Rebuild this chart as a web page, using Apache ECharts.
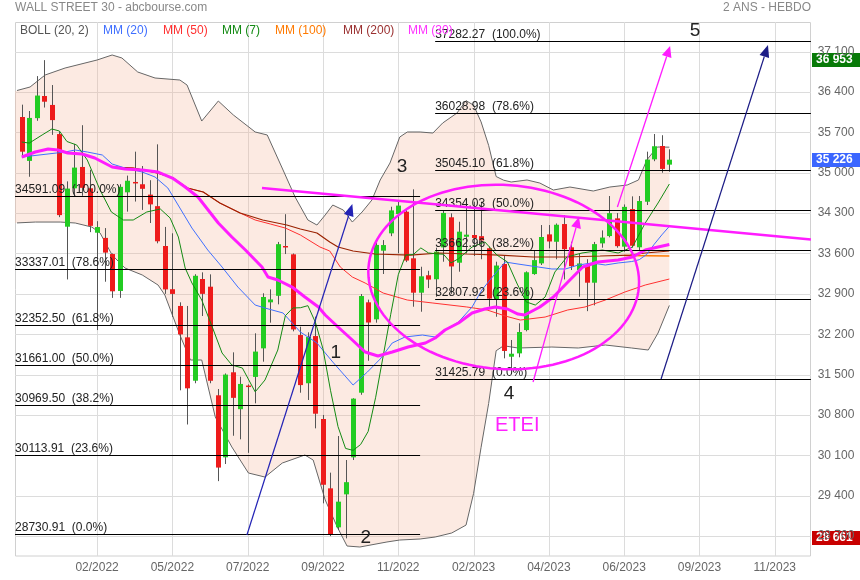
<!DOCTYPE html>
<html><head><meta charset="utf-8">
<script src="https://cdn.jsdelivr.net/npm/echarts@6/dist/echarts.min.js"></script>
<style>html,body{margin:0;padding:0;background:#fff}#c{width:860px;height:580px}</style>
</head><body><div id="c"></div>
<script>
// ---------- categories (weekly) ----------
const weeks = ['2021-12-13','2021-12-20','2021-12-27',
'2022-01-03','2022-01-10','2022-01-17','2022-01-24','2022-01-31','2022-02-07','2022-02-14','2022-02-21','2022-02-28','2022-03-07','2022-03-14','2022-03-21','2022-03-28','2022-04-04','2022-04-11','2022-04-18','2022-04-25','2022-05-02','2022-05-09','2022-05-16','2022-05-23','2022-05-30','2022-06-06','2022-06-13','2022-06-20','2022-06-27','2022-07-04','2022-07-11','2022-07-18','2022-07-25','2022-08-01','2022-08-08','2022-08-15','2022-08-22','2022-08-29','2022-09-05','2022-09-12','2022-09-19','2022-09-26','2022-10-03','2022-10-10','2022-10-17','2022-10-24','2022-10-31','2022-11-07','2022-11-14','2022-11-21','2022-11-28','2022-12-05','2022-12-12','2022-12-19','2022-12-26',
'2023-01-02','2023-01-09','2023-01-16','2023-01-23','2023-01-30','2023-02-06','2023-02-13','2023-02-20','2023-02-27','2023-03-06','2023-03-13','2023-03-20','2023-03-27','2023-04-03','2023-04-10','2023-04-17','2023-04-24','2023-05-01','2023-05-08','2023-05-15','2023-05-22','2023-05-29','2023-06-05','2023-06-12','2023-06-19','2023-06-26','2023-07-03','2023-07-10','2023-07-17','2023-07-24','2023-07-31','2023-08-07','2023-08-14','2023-08-21','2023-08-28','2023-09-04','2023-09-11','2023-09-18','2023-09-25','2023-10-02','2023-10-09','2023-10-16','2023-10-23','2023-10-30','2023-11-06','2023-11-13','2023-11-20','2023-11-27','2023-12-04','2023-12-11'];

// ---------- OHLC ----------
const opens = [35966,35205,35946,36330,36175,35670,34064,34730,35100,34730,33960,33870,33590,32950,34660,34840,34800,34620,34420,33730,32980,32690,32146,31394,33157,33024,31141,30066,31540,30900,31310,31460,31955,32753,32866,33730,33585,32186,31350,32168,30730,29528,28852,29424,30066,31186,32753,32458,33648,33949,34283,34324,33516,32920,33222,33153,33706,34227,33440,33890,33920,33900,33690,32807,33417,31810,31868,32272,33243,33428,33931,33803,34110,33707,33313,33400,33093,33775,33902,34209,33718,34370,33707,34497,35232,35463,35140];
const closes = [35365,35950,36338,36231,35912,34265,34725,35089,34738,34079,34058,33615,32944,34755,34861,34818,34721,34451,33811,32977,32899,32197,31262,33213,32900,31393,29888,31500,31097,31338,31288,31899,32845,32803,33761,33706,32283,31318,32151,30822,29590,28726,29297,29635,31083,32862,32403,33748,33746,34347,34430,33477,32920,33204,33147,33631,34303,33375,33978,33926,33869,33827,32817,33391,31910,31862,32238,33274,33485,33886,33808,34098,33674,33380,33427,33093,33762,33876,34299,33727,34408,33734,34509,35228,35459,35066,35226];
const lows = [35280,34930,35900,36130,35656,34230,33150,34600,34600,33970,32272,33110,32830,32830,34325,34500,34355,34128,33776,32900,32500,31228,30635,31350,32516,31350,29653,29950,30440,30378,30143,31002,31724,32400,32718,33590,32250,31186,31060,30568,29268,28700,28805,28661,30019,31150,31740,32400,33244,33900,33603,33450,32677,32590,33000,32850,33457,32900,33284,33603,33556,33500,32677,32503,31782,31609,31800,32250,33230,33400,33689,33500,33150,33313,32850,32600,32700,33700,33880,33700,33630,33700,33650,34440,35200,35000,35017];
const highs = [36180,36070,36675,36952,36520,35720,34850,35500,35824,35050,34160,34040,33600,34800,34950,35365,35116,34870,35492,34060,33950,32753,32690,33240,33273,33238,31250,31520,31886,31463,31330,32216,32910,32978,33800,34281,33600,32330,32233,32504,30800,29800,30435,30019,31090,32897,32800,33821,33832,34410,34497,34370,34712,33370,33300,33700,34340,34296,34150,34538,34497,34497,33720,33457,33570,32100,32390,33290,33660,34093,34093,34120,34266,33803,33600,33500,33800,34000,34596,34300,34450,34590,34596,35365,35671,35650,35406];

// ---------- indicators: [week index, value] ----------
const bollUpper = [[-0.9,36416],[1.1,36486],[3.1,36694],[5.75,36815],[10,36954],[12,37041],[13.3,36989],[15.4,36746],[17.7,36642],[21,36607],[21.95,36520],[23.9,35896],[26.1,36243],[28.1,36001],[31,35706],[32.6,35654],[34.7,35047],[36.3,34579],[38,34180],[39.2,34093],[40.3,34267],[41.3,34440],[42.7,34353],[43.9,34145],[45.2,34319],[46.5,34527],[47.6,34874],[48.9,35168],[50.2,35619],[51.2,35706],[52.9,35706],[54.6,35688],[55.9,35862],[57.8,36035],[59,36250],[60,36171],[61,35880],[62,35474],[63,34934],[64,34870],[65,34839],[67.1,34874],[68.8,34821],[70.6,34700],[72.8,34752],[75.9,34683],[78.1,34752],[80.4,34787],[81.9,34874],[83,35220],[84.4,35446],[86,35443]];
const bollLower = [[-0.9,34128],[1.8,34145],[5.1,34145],[7.1,34128],[9.3,34058],[10.4,33955],[12,33573],[13.7,33348],[16,33227],[18.1,33053],[19,32880],[21,32186],[22.4,31753],[23.9,31753],[25.7,30765],[27.9,30245],[30.1,29794],[32.3,29724],[34.6,29967],[37.6,30106],[38.7,30019],[40.3,29326],[41.9,28858],[43.2,28528],[44.9,28511],[48.5,28598],[50.2,28632],[52.9,28650],[54.9,28684],[57.1,28754],[59,28891],[60,29439],[61,30240],[62,30998],[63,31914],[64,32000],[65.9,31961],[70.4,31978],[73.9,31961],[77.5,32013],[81,31961],[83.2,31926],[84.5,32221],[86,32699]];
const ma7 = [[0,35532],[1,35514],[2.7,35654],[4,35758],[5,35723],[6,35541],[7.3,35480],[8.7,35220],[10.4,34700],[11.9,34319],[13.5,34180],[14.8,34180],[16.6,34319],[18.4,34371],[19.7,34215],[20.8,33885],[21.7,33348],[22.6,33088],[23.9,32793],[25.3,32325],[26.6,31874],[27.9,31666],[29.3,31614],[31,31200],[32.3,31406],[34,31926],[35,32520],[36,32655],[37,32659],[38,32695],[39,32406],[40,31947],[41,31228],[42,30598],[43,30220],[44,30186],[45,30288],[46,30514],[47,31108],[48,31825],[49,32546],[50,33231],[51,33573],[52,33582],[53,33696],[54,33610],[55,33594],[56,33587],[57,33437],[58,33508],[59.8,33712],[61.5,33799],[63.1,33573],[64.5,33452],[65.8,33070],[67,32760],[68.2,32706],[69.5,32845],[70.8,33279],[72.4,33539],[74.4,33608],[77.1,33660],[79.2,33608],[81.1,33712],[82.8,34128],[84.5,34475],[86,34804]];
const ma20 = [[0,35272],[5.75,35359],[7.1,35394],[8.7,35359],[10.7,35307],[12,35151],[13.7,35082],[16,35012],[17.7,34926],[19.4,34735],[21,34388],[22.6,34041],[24.7,33660],[26.6,33365],[28.7,33018],[31,32706],[32.3,32654],[34.7,32568],[37,32238],[39.2,32048],[41.3,31718],[44,31319],[45.9,31545],[47.6,31770],[49.2,32048],[50.9,32152],[53.2,32186],[54.9,32152],[56.2,32273],[58,32412],[59.8,32672],[61.1,32966],[62.5,33192],[64.2,33452],[65.9,33417],[68.6,33365],[70.4,33331],[72.2,33331],[73.9,33400],[75.7,33435],[77.5,33400],[79.2,33435],[81,33460],[82,33492],[83,33584],[84,33761],[85,33922],[86,34071]];
const ma30 = [[0,35272],[1.8,35359],[3.5,35411],[4.8,35394],[6.1,35342],[8,35324],[9.7,35255],[12,35099],[13.7,35064],[16,35047],[18.1,35012],[20,34908],[21.7,34752],[23.4,34579],[26.1,34128],[27.9,33885],[29.7,33660],[31.9,33365],[32.7,33192],[34,33140],[35.9,33018],[37.6,32845],[39.4,32672],[40.3,32533],[42,32325],[43.9,32100],[45.6,31892],[47.3,31822],[49.2,31892],[51.3,31978],[53.6,32048],[54.9,32134],[56.2,32273],[58,32394],[59.8,32568],[61.5,32637],[62.9,32672],[64.5,32637],[65.9,32550],[66.8,32533],[68.8,32672],[70.6,32845],[72.4,33088],[74.5,33365],[76.5,33452],[79.2,33487],[81.1,33539],[82.8,33660],[84.5,33712],[86,33754]];
const ma50 = [[12,35099],[14.8,35082],[18,34995],[20.1,34908],[22,34735],[24.1,34665],[26.3,34475],[29,34301],[31,34180],[33,34111],[35,34041],[37,33920],[39.6,33712],[40.9,33643],[42.3,33365],[43.9,33192],[45.6,33088],[48,32914],[51.2,32793],[54.6,32741],[59.1,32672],[61.8,32620],[64.2,32516],[66.2,32446],[69.5,32498],[72.5,32620],[74.8,32672],[77.5,32793],[80.1,32932],[82.8,33053],[86,33157]];
const ma100 = [[80,33566],[83,33562],[86,33557]];
const ma200 = [[12,35099],[14.8,35082],[18,34995],[20.1,34908],[22,34735],[24.1,34665],[26.3,34475],[29,34301],[32,34180],[35.2,34093],[37,34024],[39.2,33955],[40.9,33799],[42,33712],[44,33643],[46.9,33591],[51.6,33573],[55.5,33608],[59.1,33591],[63.5,33573],[67.9,33539],[72.4,33539],[76.8,33556],[80.8,33573],[82.8,33608],[86,33643]];

// ---------- Fibonacci levels ----------
const fibLeftValues = [34591.09,33337.01,32352.50,31661.00,30969.50,30113.91,28730.91];
const fibRightValues = [37282.27,36028.98,35045.10,34354.03,33662.96,32807.92,31425.79];
const fibPct = ['100.0%','78.6%','61.8%','50.0%','38.2%','23.6%','0.0%'];
const fibLeftSpan = [-0.89, 52.9];
const fibRightSpan = [54.9, 104.8];

// ---------- drawn annotations (week index, value) ----------
const trendLine = [[31.9,34735],[104.8,33842]];
const blueArrows = [[[29.9,28719],[43.9,34457]],[[84.9,31423],[99.1,37214]]];
const magentaArrows = [[[67.9,31371],[74.0,34232]],[[79.1,34405],[86.1,37197]]];
const ellipseCenter = [64.0,33192];
const ellipseRadius = [18.0,1595];
const waveLabels = ['1','2','3','4','5'];
const wavePos = [[41.7,31874],[45.7,28667],[50.5,35104],[64.7,31164],[89.4,37460]];
const eteiPos = [65.8,30610];

const yTicks = [28700,29400,30100,30800,31500,32200,32900,33600,34300,35000,35700,36400,37100];
const lastHigh = 36953, lastPrice = 35226, lastLow = 28661;

// ---------- chart ----------
const FONT = '"Liberation Sans", Arial, Helvetica, sans-serif';
const N = weeks.length;
const fmtSpace = v => String(v).replace(/\B(?=(\d{3})+(?!\d))/g, ' ');
const labelIdx = i => i > 0 && i % 10 === 0;
const gridXs = weeks.map((w,i)=>i).filter(labelIdx);

const chart = echarts.init(document.getElementById('c'));

function arrowEls(api, p0, p1, color, width, hl, hw) {
  const a = api.coord(p0), b = api.coord(p1);
  const dx = b[0]-a[0], dy = b[1]-a[1], L = Math.hypot(dx,dy), ux = dx/L, uy = dy/L;
  const bx = b[0]-ux*hl, by = b[1]-uy*hl;
  return [
    {type:'line', shape:{x1:a[0],y1:a[1],x2:bx,y2:by}, style:{stroke:color,lineWidth:width}},
    {type:'polygon', shape:{points:[[b[0],b[1]],[bx-uy*hw/2,by+ux*hw/2],[bx+uy*hw/2,by-ux*hw/2]]}, style:{fill:color}}
  ];
}

function fibSeries(values, span) {
  return {
    type:'custom', xAxisIndex:1, yAxisIndex:0, z:5, silent:true, clip:false,
    data: values.map(v=>[span[0], v]), encode:{x:0,y:1},
    renderItem:(params, api) => {
      const v = values[params.dataIndex];
      const a = api.coord([span[0], v]), b = api.coord([span[1], v]);
      const y = Math.round(a[1]) + 0.5;
      return {type:'group', children:[
        {type:'line', shape:{x1:a[0],y1:y,x2:b[0],y2:y}, style:{stroke:'#000',lineWidth:1}},
        {type:'text', x:a[0], y:y-1, style:{text: v.toFixed(2)+'  ('+fibPct[params.dataIndex]+')', fill:'#222', fontSize:12, fontFamily:FONT, align:'left', verticalAlign:'bottom'}}
      ]};
    }
  };
}

function maLine(data, color, width, z) {
  return {type:'line', data, xAxisIndex:1, yAxisIndex:0, symbol:'none', showSymbol:false, clip:false, silent:true, z,
    lineStyle:{color, width}};
}

const baseGraphic = [
  {type:'rect', z:0, silent:true, shape:{x:15.5,y:22.5,width:795,height:533.5}, style:{fill:'none', stroke:'#d0d0d0', lineWidth:1}},
  {type:'text', x:15, y:8, z:50, style:{text:'WALL STREET 30 - abcbourse.com', fill:'#888', fontSize:12, fontFamily:FONT, verticalAlign:'middle'}},
  {type:'text', x:811, y:8, z:50, style:{text:'2 ANS - HEBDO', fill:'#888', fontSize:12, fontFamily:FONT, align:'right', verticalAlign:'middle'}},
  {type:'text', x:20, y:31, z:50, style:{text:'BOLL (20, 2)', fill:'#555', fontSize:12, fontFamily:FONT, verticalAlign:'middle'}},
  {type:'text', x:103, y:31, z:50, style:{text:'MM (20)', fill:'#3f6fff', fontSize:12, fontFamily:FONT, verticalAlign:'middle'}},
  {type:'text', x:163, y:31, z:50, style:{text:'MM (50)', fill:'#ff3030', fontSize:12, fontFamily:FONT, verticalAlign:'middle'}},
  {type:'text', x:222, y:31, z:50, style:{text:'MM (7)', fill:'#138a13', fontSize:12, fontFamily:FONT, verticalAlign:'middle'}},
  {type:'text', x:275, y:31, z:50, style:{text:'MM (100)', fill:'#ff7a00', fontSize:12, fontFamily:FONT, verticalAlign:'middle'}},
  {type:'text', x:343, y:31, z:50, style:{text:'MM (200)', fill:'#9a3030', fontSize:12, fontFamily:FONT, verticalAlign:'middle'}},
  {type:'text', x:408, y:31, z:50, style:{text:'MM (30)', fill:'#ff33ff', fontSize:12, fontFamily:FONT, verticalAlign:'middle'}}
];

const option = {
  animation:false,
  grid:[{left:18, top:22, width:790.65, height:534}],
  xAxis:[
    {type:'category', data:weeks, gridIndex:0, boundaryGap:true,
     axisLine:{show:false}, axisTick:{show:false}, splitLine:{show:false},
     axisLabel:{interval:(i)=>labelIdx(i), formatter:v=>v.slice(5,7)+'/'+v.slice(0,4), color:'#666', fontSize:12, fontFamily:FONT, margin:6}},
    {type:'value', gridIndex:0, min:-0.5, max:N-0.5, show:false}
  ],
  yAxis:[{type:'value', min:28355, max:37613, position:'right', gridIndex:0,
    axisLine:{show:false}, axisTick:{show:false, customValues:yTicks}, splitLine:{show:false},
    axisLabel:{customValues:yTicks, formatter:v=>fmtSpace(v), color:'#666', fontSize:12, fontFamily:FONT, margin:9, padding:[0,0,6,0]}}],
  series:[
    {type:'custom', xAxisIndex:1, yAxisIndex:0, z:1, silent:true, clip:false,
     data: yTicks.map(v=>[0,v]), encode:{x:0,y:1},
     renderItem:(params, api)=>{
       const v = yTicks[params.dataIndex];
       const a = api.coord([fibLeftSpan[0], v]), b = api.coord([fibRightSpan[1], v]);
       const y = Math.round(a[1])+0.5;
       return {type:'line', shape:{x1:a[0],y1:y,x2:b[0],y2:y}, style:{stroke:'#dcdcdc',lineWidth:1}};
     }},
    {type:'custom', xAxisIndex:0, yAxisIndex:0, z:1, silent:true, clip:false,
     data: gridXs.map(i=>[i, 33000]), encode:{x:0,y:1},
     renderItem:(params, api)=>{
       const cs = params.coordSys;
       const x = Math.round(api.coord([api.value(0), 33000])[0]) + 0.5;
       return {type:'line', shape:{x1:x,y1:cs.y,x2:x,y2:cs.y+cs.height}, style:{stroke:'#dcdcdc',lineWidth:1}};
     }},
    {type:'custom', xAxisIndex:1, yAxisIndex:0, z:1, silent:true, clip:false,
     data:[[0,33000]], encode:{x:0,y:1},
     renderItem:(params, api)=>{
       const pts = bollUpper.map(p=>api.coord(p)).concat(bollLower.slice().reverse().map(p=>api.coord(p)));
       return {type:'polygon', shape:{points:pts}, style:{fill:'rgba(246,180,150,0.28)'}};
     }},
    maLine(bollUpper, '#666', 1, 2),
    maLine(bollLower, '#666', 1, 2),
    {type:'custom', xAxisIndex:0, yAxisIndex:0, z:3, silent:true,
     data: opens.map((o,i)=>[i, o, closes[i], lows[i], highs[i]]),
     encode:{x:0, y:[1,2,3,4]},
     renderItem:(params, api)=>{
       const i = api.value(0), o = api.value(1), c = api.value(2), l = api.value(3), h = api.value(4);
       const po = api.coord([i,o]), pc = api.coord([i,c]), pl = api.coord([i,l]), ph = api.coord([i,h]);
       const x = Math.round(po[0]) + 0.5;
       const top = Math.min(po[1],pc[1]), bot = Math.max(po[1],pc[1]);
       const up = c >= o;
       return {type:'group', children:[
         {type:'line', shape:{x1:x,y1:ph[1],x2:x,y2:pl[1]}, style:{stroke:'#555',lineWidth:1}},
         {type:'rect', shape:{x:x-2.5, y:top, width:5, height:Math.max(1.5, bot-top)}, style:{fill: up ? '#22cc22' : '#ee1b1b'}}
       ]};
     }},
    maLine(ma50, '#ff3030', 1, 4),
    maLine(ma100, '#ff7a00', 1.5, 4),
    maLine(ma200, '#9a2200', 1.2, 4),
    maLine(ma20, '#3f6fff', 1, 4),
    maLine(ma7, '#138a13', 1, 4),
    maLine(ma30, '#ff1cff', 3, 4),
    fibSeries(fibLeftValues, fibLeftSpan),
    fibSeries(fibRightValues, fibRightSpan),
    {type:'custom', xAxisIndex:1, yAxisIndex:0, z:6, silent:true, clip:false,
     data:[[0,33000]], encode:{x:0,y:1},
     renderItem:(params, api)=>{
       const els = [];
       const t0 = api.coord(trendLine[0]), t1 = api.coord(trendLine[1]);
       els.push({type:'line', shape:{x1:t0[0],y1:t0[1],x2:t1[0],y2:t1[1]}, style:{stroke:'#ff1cff',lineWidth:2.5}});
       const c = api.coord(ellipseCenter);
       const rxp = api.coord([ellipseCenter[0]+ellipseRadius[0], ellipseCenter[1]])[0] - c[0];
       const ryp = c[1] - api.coord([ellipseCenter[0], ellipseCenter[1]+ellipseRadius[1]])[1];
       const tilt = 4*Math.PI/180, pts = [];
       for (let k=0;k<120;k++){ const t = k/120*2*Math.PI; const ex = rxp*Math.cos(t), ey = ryp*Math.sin(t);
         pts.push([c[0]+ex*Math.cos(tilt)-ey*Math.sin(tilt), c[1]+ex*Math.sin(tilt)+ey*Math.cos(tilt)]); }
       els.push({type:'polygon', shape:{points:pts}, style:{fill:null, stroke:'#ff1cff', lineWidth:2.5}});
       els.push(...arrowEls(api, blueArrows[0][0], blueArrows[0][1], '#2323b5', 1.2, 12, 10));
       els.push(...arrowEls(api, blueArrows[1][0], blueArrows[1][1], '#1c1c86', 1.2, 12, 10));
       els.push(...arrowEls(api, magentaArrows[0][0], magentaArrows[0][1], '#ff1cff', 1.3, 11, 10));
       els.push(...arrowEls(api, magentaArrows[1][0], magentaArrows[1][1], '#ff1cff', 1.3, 11, 10));
       waveLabels.forEach((t,k)=>{ const p = api.coord(wavePos[k]);
         els.push({type:'text', x:p[0], y:p[1], style:{text:t, fill:'#222', fontSize:19, fontFamily:FONT, align:'center', verticalAlign:'middle'}}); });
       const pe = api.coord(eteiPos);
       els.push({type:'text', x:pe[0], y:pe[1], style:{text:'ETEI', fill:'#ff22ff', fontSize:20, fontFamily:FONT, align:'center', verticalAlign:'middle'}});
       return {type:'group', children:els};
     }}
  ],
  graphic: baseGraphic
};
chart.setOption(option);

// price tags on the right axis, placed at their values through the y scale
const tags = [[lastHigh,'#087a08'],[lastPrice,'#3b66ff'],[lastLow,'#c80000']];
const tagEls = tags.map(([v,col]) => {
  const y = Math.min(chart.convertToPixel({yAxisIndex:0}, v), 549);
  return {type:'group', x:812, y:Math.round(y)-7, zlevel:1, z:60, children:[
    {type:'rect', shape:{x:0,y:0,width:48,height:14}, style:{fill:col}},
    {type:'text', x:4, y:7, style:{text:fmtSpace(v), fill:'#fff', fontSize:12, fontWeight:'bold', fontFamily:FONT, verticalAlign:'middle'}}]};
});
chart.setOption({graphic: baseGraphic.concat(tagEls)});
</script>
</body></html>
